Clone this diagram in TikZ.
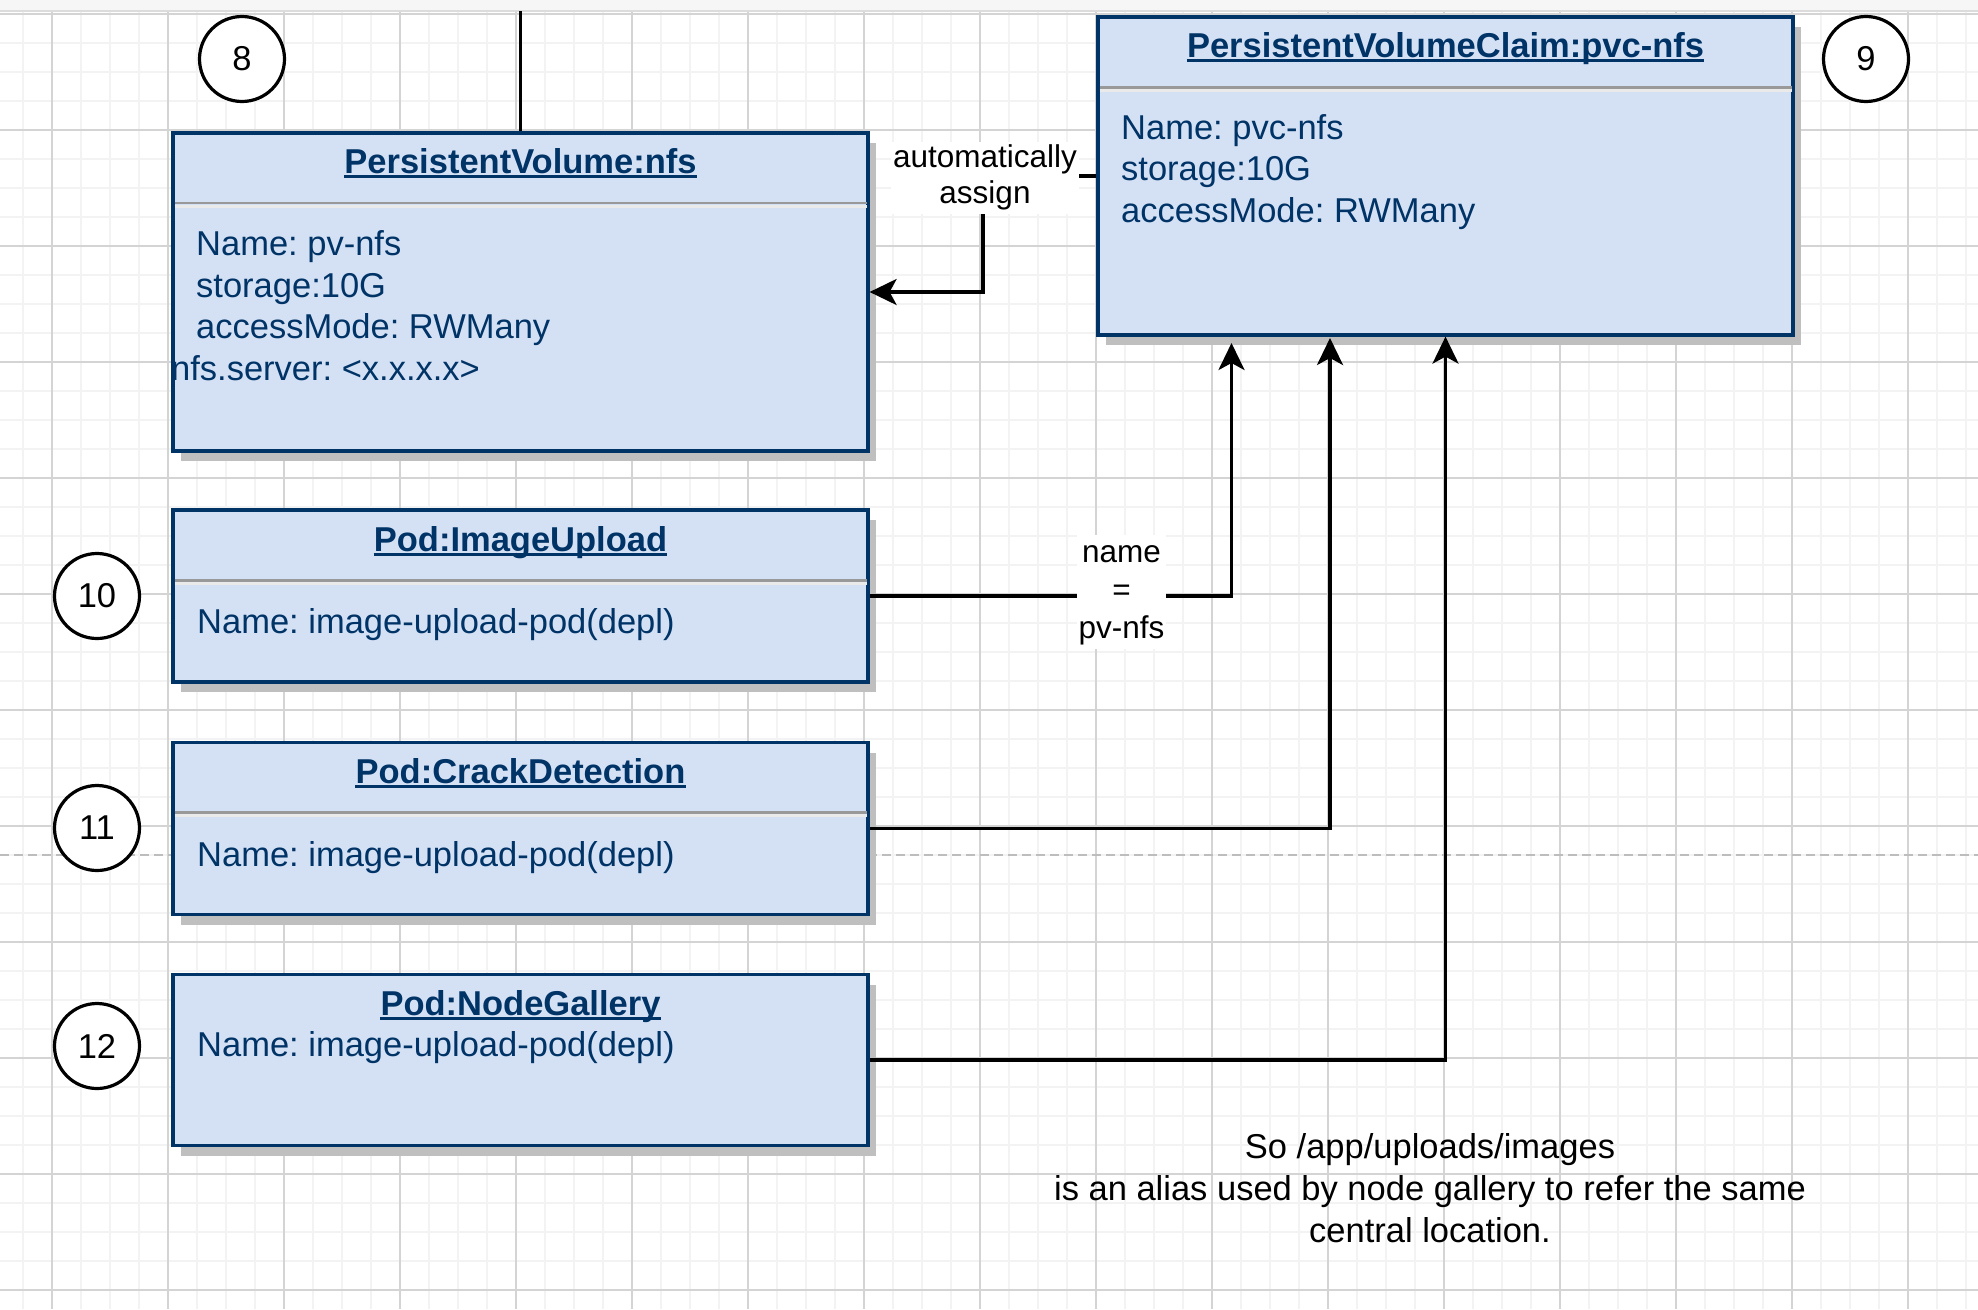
\documentclass[tikz,border=0pt]{standalone}
\usepackage{fontspec}
\setmainfont{Liberation Sans}
\usetikzlibrary{arrows.meta,shadows}
\frenchspacing
\definecolor{navy}{HTML}{003366}
\definecolor{boxfill}{HTML}{D4E1F5}
\definecolor{shadowgray}{HTML}{BFBFBF}
\definecolor{gridmajor}{HTML}{D4D4D4}
\definecolor{gridminor}{HTML}{F3F3F3}
\definecolor{sepgray}{HTML}{999999}
\definecolor{seplight}{HTML}{EAEAEA}
\definecolor{pagestrip}{HTML}{F6F6F6}
\definecolor{pageline}{HTML}{DCDCDC}
\definecolor{dashgray}{HTML}{BDBDBD}
\newcommand\bodysize{\fontsize{34.5}{41.5}\selectfont}
\newcommand\lblsizeA{\fontsize{31.5}{36}\selectfont}
\newcommand\lblsizeB{\fontsize{31.5}{38}\selectfont}
\newcommand\notesize{\fontsize{34.5}{42}\selectfont}
\newcommand\ulto[1]{\draw[ulin] ([yshift=-3.5pt]#1.base west) -- ([yshift=-3.5pt]#1.base east);}
\begin{document}
\begin{tikzpicture}[x=1pt,y=-1pt,
  boxshadow/.style={drop shadow={shadow xshift=7.5pt,shadow yshift=-10pt,fill=shadowgray,opacity=1}},
  umlbox/.style={rectangle,draw=navy,line width=3.2pt,fill=boxfill,inner sep=0pt,minimum width=695pt,boxshadow},
  ttl/.style={font=\bfseries\bodysize,text=navy,inner sep=0pt,anchor=base},
  bodytxt/.style={font=\bodysize,text=navy,inner sep=0pt,anchor=base west},
  ulin/.style={draw=navy,line width=2.6pt},
  sepdark/.style={draw=sepgray,line width=2.7pt},
  seplite/.style={draw=seplight,line width=3pt},
  numc/.style={circle,draw=black,line width=3.2pt,fill=white,minimum size=85pt,inner sep=0pt,font=\bodysize},
  lbl/.style={fill=white,inner xsep=2pt,inner ysep=0pt,align=center,text=black},
  conn/.style={draw=black,line width=3.4pt,-{Stealth[length=27pt,width=26pt,inset=7pt]}},
  plainln/.style={draw=black,line width=2.6pt},
  gminor/.style={draw=gridminor,line width=1.6pt},
  gmajor/.style={draw=gridmajor,line width=1.3pt}
]
\useasboundingbox (0,0) rectangle (1978,1309);
\fill[white] (0,0) rectangle (1978,1309);
% grid
\foreach \i in {0,...,67} {\draw[gminor] ({23+29*\i},12) -- ({23+29*\i},1309);}
\foreach \j in {0,...,44} {\draw[gminor] (0,{14+29*\j}) -- (1978,{14+29*\j});}
\foreach \i in {0,...,16} {\draw[gmajor] ({52+116*\i},12) -- ({52+116*\i},1309);}
\foreach \j in {0,...,11} {\draw[gmajor] (0,{14+116*\j}) -- (1978,{14+116*\j});}
% page top strip
\fill[pagestrip] (0,0) rectangle (1978,10);
\draw[pageline,line width=1.5pt] (0,11) -- (1978,11);
% page break line
\draw[dashgray,line width=1.5pt,dash pattern=on 9pt off 5pt] (0,855) -- (1978,855);

% boxes
\node[umlbox,minimum height=318pt] (pv) at (520.5,292) {};
\node[umlbox,minimum height=318pt] (pvc) at (1445.5,176) {};
\node[umlbox,minimum height=172pt] (iu) at (520.5,596) {};
\node[umlbox,minimum height=172pt] (cd) at (520.5,828.5) {};
\node[umlbox,minimum height=171pt] (ng) at (520.5,1060) {};

% header separators
\draw[seplite] (174.5,206) -- (866.5,206);
\draw[sepdark] (174.5,203) -- (866.5,203);
\draw[seplite] (1099.5,90.5) -- (1791.5,90.5);
\draw[sepdark] (1099.5,87.5) -- (1791.5,87.5);
\draw[seplite] (174.5,583.5) -- (866.5,583.5);
\draw[sepdark] (174.5,580.5) -- (866.5,580.5);
\draw[seplite] (174.5,815.5) -- (866.5,815.5);
\draw[sepdark] (174.5,812.5) -- (866.5,812.5);

% titles
\node[ttl] (pvt) at (520.5,173) {PersistentVolume:nfs};
\ulto{pvt}
\node[ttl] (pvct) at (1445.5,57) {PersistentVolumeClaim:pvc-nfs};
\ulto{pvct}
\node[ttl] (iut) at (520.5,551) {Pod:ImageUpload};
\ulto{iut}
\node[ttl] (cdt) at (520.5,783) {Pod:CrackDetection};
\ulto{cdt}
\node[ttl] (ngt) at (520.5,1015) {Pod:NodeGallery};
\ulto{ngt}

% body texts
\node[bodytxt] (pv1) at (196,255.5) {Name: pv-nfs};
\node[bodytxt] (pv2) at (196,297) {storage:10G};
\node[bodytxt] (pv3) at (196,338.5) {accessMode: RWMany};
\node[bodytxt] (pv4) at (171,380) {nfs.server: <x.x.x.x>};
\node[bodytxt] (pvc1) at (1121,139) {Name: pvc-nfs};
\node[bodytxt] (pvc2) at (1121,180.5) {storage:10G};
\node[bodytxt] (pvc3) at (1121,222) {accessMode: RWMany};
\node[bodytxt] (iu1) at (197,633) {Name: image-upload-pod(depl)};
\node[bodytxt] (cd1) at (197,866) {Name: image-upload-pod(depl)};
\node[bodytxt] (ng1) at (197,1056) {Name: image-upload-pod(depl)};

% connectors
\coordinate (topend) at (520.5,11);
\draw[plainln] (pv.north) -- (topend);
\coordinate (bendA) at (983,176);
\draw[conn] (pvc.west) -- (bendA) |- (pv.east);
\node[lbl,font=\lblsizeA] (lblA) at (985,177.8) {\strut automatically\\assign\strut};
\coordinate (tipIU) at (1231.5,343);
\draw[conn] (iu.east) -| (tipIU);
\node[lbl,font=\lblsizeB] (lblB) at (1121.5,592.4) {\strut name\\=\\pv-nfs\strut};
\coordinate (tipCD) at (1330,338);
\draw[conn] (cd.east) -| (tipCD);
\draw[conn] (ng.east) -| (pvc.south);

% numbered circles
\node[numc] (c8) at (242,59) {8};
\node[numc] (c9) at (1866,59) {9};
\node[numc] (c10) at (97,596) {10};
\node[numc] (c11) at (97,828) {11};
\node[numc] (c12) at (97,1046) {12};

% note
\node[align=center,font=\notesize,text=black,inner sep=0pt] (note) at (1430,1191.6)
  {\strut So /app/uploads/images\\is an alias used by node gallery to refer the same\\central location.\strut};
\end{tikzpicture}
\end{document}
